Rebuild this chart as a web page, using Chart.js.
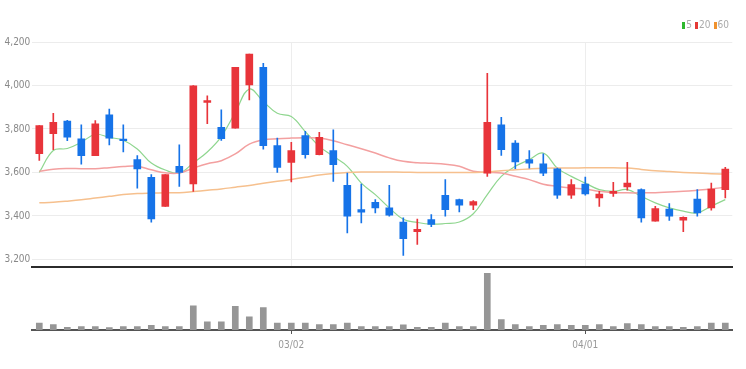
<!DOCTYPE html>
<html>
<head>
<meta charset="utf-8">
<script src="https://cdn.jsdelivr.net/npm/chart.js@4"></script>
<style>
  body { margin: 0; background: #fff; }
  #wrap { position: relative; width: 746px; height: 369px; }
  #priceBox { position: absolute; left: 0; top: 0; width: 746px; height: 275px; }
  #volBox { position: absolute; left: 0; top: 268px; width: 746px; height: 101px; }
  #legend { position: absolute; top: 20px; right: 17px; font: 10px 'Liberation Sans Narrow', 'DejaVu Sans Condensed', sans-serif; color: #aaa; line-height: 10px; display: flex; align-items: center; }
  #legend span.box { display: inline-block; width: 3px; height: 7px; margin-right: 1px; }
  #legend span.txt { margin-right: 3px; }
</style>
</head>
<body>
<div id="wrap">
  <div id="priceBox"><canvas id="price"></canvas></div>
  <div id="volBox"><canvas id="vol"></canvas></div>
  <div id="legend">
    <span class="box" style="background:#2eb82e"></span><span class="txt">5</span>
    <span class="box" style="background:#e53935"></span><span class="txt">20</span>
    <span class="box" style="background:#f0922e"></span><span class="txt" style="margin-right:0">60</span>
  </div>
</div>
<script>
const fechas = ['02/03','02/04','02/07','02/08','02/09','02/10','02/11','02/14','02/15','02/16',
  '02/17','02/18','02/21','02/22','02/23','02/24','02/25','02/28','03/02','03/03',
  '03/04','03/07','03/08','03/10','03/11','03/14','03/15','03/16','03/17','03/18',
  '03/21','03/22','03/23','03/24','03/25','03/28','03/29','03/30','03/31','04/01',
  '04/04','04/05','04/06','04/07','04/08','04/11','04/12','04/13','04/14','04/15'];

const apertura = [3686,3778,3836,3755,3677,3865,3753,3659,3578,3444,
  3628,3547,3922,3807,3804,4003,4083,3723,3646,3770,
  3682,3700,3541,3429,3463,3437,3372,3327,3383,3495,
  3475,3449,3597,3819,3735,3659,3640,3617,3495,3547,
  3483,3503,3533,3521,3376,3432,3380,3478,3437,3521];
const cierre = [3815,3831,3762,3677,3824,3758,3746,3616,3386,3590,
  3600,3998,3931,3755,4083,4145,3723,3623,3701,3682,
  3761,3636,3399,3417,3437,3403,3295,3338,3361,3429,
  3449,3466,3830,3705,3648,3643,3597,3495,3544,3501,
  3501,3513,3551,3391,3434,3399,3394,3414,3524,3616];
const maximo = [3815,3872,3840,3819,3839,3891,3819,3678,3590,3590,
  3727,4000,3952,3888,4083,4145,4102,3758,3738,3789,
  3785,3796,3597,3547,3475,3541,3391,3386,3406,3567,
  3478,3470,4056,3853,3747,3700,3686,3620,3567,3579,
  3513,3555,3646,3525,3444,3457,3396,3521,3551,3623];
const minimo = [3655,3705,3746,3638,3677,3727,3694,3528,3371,3444,
  3536,3513,3824,3747,3804,3934,3707,3600,3556,3666,
  3680,3559,3322,3368,3414,3399,3218,3269,3350,3399,
  3418,3429,3582,3678,3617,3620,3585,3480,3480,3495,
  3444,3490,3518,3371,3376,3379,3327,3399,3426,3483];

const ma5 = [3600,3701,3710,3739,3775,3761,3748,3708,3643,3611,
  3597,3644,3694,3765,3876,3984,3926,3872,3857,3788,
  3720,3674,3628,3551,3498,3437,3385,3370,3362,3365,
  3372,3410,3498,3582,3628,3659,3689,3620,3582,3551,
  3521,3513,3521,3490,3460,3437,3422,3414,3445,3475];
const ma20 = [3605,3615,3618,3617,3617,3622,3627,3628,3612,3598,
  3597,3620,3640,3654,3685,3730,3750,3755,3758,3760,
  3758,3746,3727,3709,3689,3667,3651,3645,3642,3638,
  3628,3605,3600,3597,3582,3567,3546,3536,3528,3524,
  3513,3507,3506,3506,3507,3510,3513,3518,3524,3532];
const ma60 = [3460,3463,3468,3474,3482,3490,3498,3503,3505,3506,
  3507,3512,3518,3524,3532,3540,3550,3559,3568,3578,
  3588,3595,3600,3602,3602,3602,3601,3600,3600,3600,
  3600,3600,3602,3608,3612,3616,3619,3620,3620,3621,
  3621,3622,3620,3614,3608,3604,3600,3597,3594,3593];

const volumen = [134000,106000,54000,66000,66000,46000,66000,66000,94000,66000,
  66000,474000,160000,160000,466000,260000,440000,134000,134000,134000,
  106000,106000,134000,66000,66000,66000,100000,54000,54000,134000,
  66000,66000,1114000,206000,106000,66000,94000,106000,94000,94000,
  106000,66000,126000,106000,66000,66000,54000,66000,134000,134000];

const precioTicks = [3200, 3400, 3600, 3800, 4000, 4200];

const ROJO = '#e8343a';
const AZUL = '#1673e8';
const colores = apertura.map((o, i) => cierre[i] >= o ? ROJO : AZUL);
const fuente = { family: "'Liberation Sans Narrow', 'DejaVu Sans Condensed', sans-serif", size: 10 };

// cambio de mes -> etiqueta y linea vertical
const esInicioMes = i => i > 0 && fechas[i].slice(0, 2) !== fechas[i - 1].slice(0, 2);

new Chart(document.getElementById('price'), {
  type: 'bar',
  data: {
    labels: fechas,
    datasets: [
      { type: 'line', label: '5', data: ma5, borderColor: '#8fd68f', borderWidth: 1.2, pointRadius: 0, tension: 0.4, order: 5 },
      { type: 'line', label: '20', data: ma20, borderColor: '#f3a0a0', borderWidth: 1.5, pointRadius: 0, tension: 0.4, order: 4 },
      { type: 'line', label: '60', data: ma60, borderColor: '#f6c08e', borderWidth: 1.5, pointRadius: 0, tension: 0.4, order: 3 },
      { label: 'wick', data: minimo.map((l, i) => [l, maximo[i]]), backgroundColor: colores, barThickness: 1, grouped: false, order: 2 },
      { label: 'body', data: apertura.map((o, i) => [o, cierre[i]]), backgroundColor: colores, barThickness: 7, minBarLength: 1, grouped: false, order: 1 }
    ]
  },
  options: {
    responsive: true,
    maintainAspectRatio: false,
    animation: false,
    layout: { padding: { top: 42, right: 13.7, bottom: 2, left: 0 } },
    plugins: { legend: { display: false }, tooltip: { enabled: false } },
    scales: {
      x: {
        offset: true,
        afterFit: s => { s.height = 0; },
        grid: { offset: false, drawTicks: false, color: c => esInicioMes(c.index) ? '#ededed' : 'transparent' },
        border: { color: '#2b2b2b', width: 2 },
        ticks: { display: false, autoSkip: false }
      },
      y: {
        min: 3165,
        max: 4200,
        afterBuildTicks: s => { s.ticks = precioTicks.map(v => ({ value: v })); },
        afterFit: s => { s.width = 32.3; },
        grid: { color: '#ececec', drawTicks: false },
        border: { display: false },
        ticks: { color: '#888', font: fuente, padding: 2, callback: v => v.toLocaleString('en-US') }
      }
    }
  }
});

new Chart(document.getElementById('vol'), {
  type: 'bar',
  data: {
    labels: fechas,
    datasets: [{ label: 'vol', data: volumen, backgroundColor: '#969696', barThickness: 6 }]
  },
  options: {
    responsive: true,
    maintainAspectRatio: false,
    animation: false,
    layout: { padding: { top: 2, right: 13.7, bottom: 13, left: 32.3 } },
    plugins: { legend: { display: false }, tooltip: { enabled: false } },
    scales: {
      x: {
        offset: true,
        grid: { offset: false, drawOnChartArea: false, tickLength: 4, color: c => esInicioMes(c.index) ? '#555' : 'transparent' },
        border: { color: '#555', width: 2 },
        ticks: {
          autoSkip: false, maxRotation: 0, color: '#999', font: fuente, padding: 5,
          callback: (v, i) => esInicioMes(i) ? fechas[i] : ''
        }
      },
      y: { display: false, min: 0, max: 1180000 }
    }
  }
});
</script>
</body>
</html>
